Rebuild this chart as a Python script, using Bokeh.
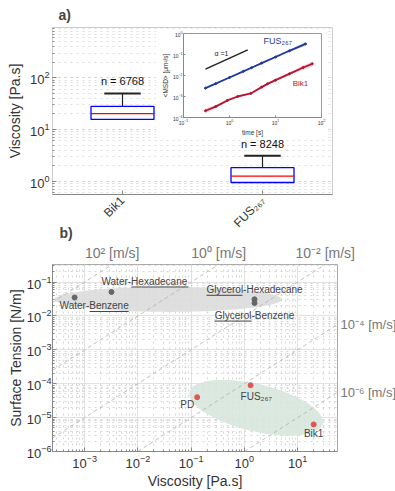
import math
import numpy as np
from bokeh.plotting import figure
from bokeh.models import (ColumnDataSource, FactorRange, LinearAxis, FixedTicker, Spacer)
from bokeh.transform import dodge
from bokeh.layouts import column, row
from bokeh.embed import file_html
from bokeh.resources import INLINE
from bokeh.core.properties import value

FONT = "Liberation Sans"
PAGE_W = 395

# ---------------- data: panel a (box plot) ----------------
box_cats = ["Bik1", "FUS₂₆₇"]
box_q1 = [15.7, 0.94]
box_median = [20.4, 1.25]
box_q3 = [28.0, 1.82]
box_whisker_hi = [50.0, 3.1]
box_n = ["n = 6768", "n = 8248"]

# ---------------- data: inset (MSD vs time) ----------------
fus_time = [0.3, 0.5, 1.0, 2.0, 3.0, 5.0, 10.0, 20.0, 45.0]
fus_msd = [0.0025, 0.0041, 0.008, 0.0158, 0.0235, 0.039, 0.076, 0.15, 0.32]
fus_lo = [0.0023, 0.0038, 0.0074, 0.0145, 0.0215, 0.035, 0.068, 0.13, 0.26]
fus_hi = [0.0027, 0.0044, 0.0086, 0.017, 0.0255, 0.043, 0.085, 0.17, 0.38]

bik_time = [0.3, 0.5, 0.9, 1.5, 2.9, 5.0, 6.7, 10.0, 20.0, 40.0, 63.0]
bik_msd = [2.1e-4, 3.3e-4, 6.5e-4, 1.0e-3, 1.4e-3, 2.8e-3, 4.0e-3, 6.0e-3, 1.2e-2, 2.4e-2, 3.6e-2]
bik_lo = [1.6e-4, 2.7e-4, 5.6e-4, 9.0e-4, 1.3e-3, 2.5e-3, 3.5e-3, 5.2e-3, 1.0e-2, 1.9e-2, 2.6e-2]
bik_hi = [2.7e-4, 4.0e-4, 7.4e-4, 1.1e-3, 1.5e-3, 3.1e-3, 4.5e-3, 6.9e-3, 1.4e-2, 3.0e-2, 4.8e-2]

alpha_time = [0.3, 2.5]
alpha_msd = [0.02, 0.165]

inset_xticks = [0.1, 1, 10, 100]
inset_yticks = [1e-4, 1e-3, 1e-2, 1e-1, 1]

# ---------------- data: panel b ----------------
liquid_names = ["Water-Benzene", "Water-Hexadecane", "Glycerol-Hexadecane", "Glycerol-Benzene"]
liquid_visc = [6.5e-4, 3.2e-3, 1.55, 1.55]
liquid_tension = [0.035, 0.051, 0.031, 0.024]

protein_names = ["PD", "FUS₂₆₇", "Bik1"]
protein_visc = [0.13, 1.31, 20.0]
protein_tension = [4.0e-5, 9.0e-5, 6.3e-6]

speeds = [1e2, 1e0, 1e-2, 1e-4, 1e-6]
speed_labels = ["10² [m/s]", "10⁰ [m/s]", "10⁻² [m/s]", "10⁻⁴ [m/s]", "10⁻⁶ [m/s]"]

# ellipses: centre (log10 visc, log10 tension), two semi-axis vectors in decades
liquid_ell_center = (-1.43, -1.51)
liquid_ell_u = (2.13, 0.0)
liquid_ell_v = (0.0, 0.37)
protein_ell_center = (0.22, -4.71)
protein_ell_u = (1.249, -0.47)
protein_ell_v = (0.104, 0.677)

XB = (2.5e-4, 56.0)
YB = (1e-6, 0.33)

TXT = "#333333"
AX = "#888888"


def style_axis(ax, size="13px"):
    ax.major_label_text_font = FONT
    ax.major_label_text_font_size = size
    ax.major_label_text_color = TXT
    ax.axis_label_text_font = FONT
    ax.axis_label_text_font_style = "normal"
    ax.axis_label_text_color = TXT
    ax.axis_line_color = AX
    ax.major_tick_line_color = AX
    ax.minor_tick_line_color = AX
    ax.major_tick_in = 4
    ax.major_tick_out = 0
    ax.minor_tick_in = 2
    ax.minor_tick_out = 0


# ================= panel a =================
PA_L, PA_T, PA_FW, PA_FH, PA_B = 52, 27, 280, 167, 44
PA_H = PA_T + PA_FH + PA_B
pa = figure(frame_width=PA_FW, frame_height=PA_FH, x_range=FactorRange(*box_cats),
            y_axis_type="log", y_range=(0.55, 950),
            output_backend="svg", toolbar_location=None,
            min_border_left=PA_L, min_border_right=PAGE_W - PA_L - PA_FW,
            min_border_top=PA_T, min_border_bottom=PA_B, title="a)")
pa.title.text_font = FONT
pa.title.text_font_size = "14px"
pa.title.text_font_style = "bold"
pa.title.align = "left"
pa.title.offset = 6
pa.title.standoff = 9
pa.outline_line_color = "#cccccc"
pa.xgrid.grid_line_color = None
pa.ygrid.grid_line_color = "#d0d0d0"
pa.ygrid.grid_line_dash = "dotted"
pa.ygrid.minor_grid_line_color = "#dddddd"
pa.ygrid.minor_grid_line_dash = "dotted"
for ax in pa.axis:
    style_axis(ax)
pa.yaxis.axis_label = "Viscosity [Pa.s]"
pa.yaxis.axis_label_text_font_size = "14px"
pa.yaxis.axis_label_standoff = 4
pa.yaxis.major_label_standoff = 3
pa.yaxis.axis_line_color = "#cccccc"
pa.xaxis.major_label_orientation = math.pi / 4
pa.xaxis.major_label_standoff = 4
pa.xaxis.major_label_text_font_size = "12px"

src = ColumnDataSource(dict(cat=box_cats, q1=box_q1, med=box_median, q3=box_q3,
                            hi=box_whisker_hi, n=box_n))
pa.segment(x0="cat", y0="q3", x1="cat", y1="hi", source=src, line_color="#222222", line_width=1.2)
pa.vbar(x="cat", top="q3", bottom="q1", width=0.45, source=src,
        fill_color="white", line_color="#0000ff", line_width=1.3)
pa.segment(x0=dodge("cat", -0.225, range=pa.x_range), y0="med",
           x1=dodge("cat", 0.225, range=pa.x_range), y1="med",
           source=src, line_color="#ff0000", line_width=1.3)
pa.segment(x0=dodge("cat", -0.13, range=pa.x_range), y0="hi",
           x1=dodge("cat", 0.13, range=pa.x_range), y1="hi",
           source=src, line_color="#222222", line_width=2)
pa.text(x="cat", y="hi", text="n", source=src, y_offset=-6,
        text_align="center", text_baseline="bottom",
        text_font=value(FONT), text_font_size="11px", text_color="#111111")

# ================= inset =================
PI_X, PI_Y = 155, 28
PI_L, PI_R, PI_T, PI_B, PI_FW, PI_FH = 28, 7, 5, 20, 138, 84
PI_W, PI_H = PI_L + PI_FW + PI_R, PI_T + PI_FH + PI_B
pi = figure(frame_width=PI_FW, frame_height=PI_FH, x_axis_type="log", y_axis_type="log",
            x_range=(0.1, 100), y_range=(1e-4, 1),
            output_backend="svg", toolbar_location=None,
            min_border_left=PI_L, min_border_right=PI_R, min_border_top=PI_T,
            min_border_bottom=PI_B)
pi.outline_line_color = "#999999"
pi.grid.grid_line_color = None
for ax in pi.axis:
    style_axis(ax, "5px")
    ax.major_tick_in = 2
    ax.minor_tick_in = 0
    ax.major_label_standoff = 1
    ax.axis_label_text_font_size = "6.5px"
    ax.axis_label_standoff = 1
pi.xaxis.ticker = FixedTicker(ticks=inset_xticks)
pi.yaxis.ticker = FixedTicker(ticks=inset_yticks)
pi.xaxis.axis_label = "time [s]"
pi.yaxis.axis_label = "<MSD> [μm²/s]"

pi.varea(x=fus_time, y1=fus_lo, y2=fus_hi, fill_color="#9fb0e0", fill_alpha=0.6)
pi.varea(x=bik_time, y1=bik_lo, y2=bik_hi, fill_color="#f2b6c4", fill_alpha=0.6)
pi.line(fus_time, fus_msd, line_color="#1f3a99", line_width=1.8)
pi.scatter(fus_time, fus_msd, size=2, color="#1f3a99")
pi.line(bik_time, bik_msd, line_color="#b5152f", line_width=1.8)
pi.scatter(bik_time, bik_msd, size=2, color="#b5152f")
pi.line(alpha_time, alpha_msd, line_color="#222222", line_width=1.5)
pi.text(x=[fus_time[-1]], y=[fus_msd[-1]], text=["FUS₂₆₇"], x_offset=-42, y_offset=-3,
        text_align="left", text_baseline="middle", text_font=value(FONT),
        text_font_size="9px", text_color="#1f3a99")
pi.text(x=[bik_time[-1]], y=[bik_msd[-1]], text=["Bik1"], x_offset=-4, y_offset=20,
        text_align="right", text_baseline="middle", text_font=value(FONT),
        text_font_size="8px", text_color="#b5152f")
pi.text(x=[alpha_time[0]], y=[alpha_msd[0]], text=["α =1"], x_offset=9, y_offset=-16,
        text_align="left", text_baseline="middle", text_font=value(FONT),
        text_font_size="7px", text_color="#222222")

inset_row = row(Spacer(width=PI_X, height=PI_H), pi,
                Spacer(width=PAGE_W - PI_X - PI_W, height=PI_H))
inset_row.margin = (PI_Y - PA_H, 0, PA_H - PI_Y - PI_H, 0)

# ================= panel b =================
PB_L, PB_FW, PB_FH = 48, 285, 187
PB_TOP, PB_FRAME_TOP = 220, 263
pb = figure(frame_width=PB_FW, frame_height=PB_FH, x_axis_type="log", y_axis_type="log",
            x_range=XB, y_range=YB, output_backend="svg", toolbar_location=None,
            min_border_left=PB_L, min_border_right=PAGE_W - PB_L - PB_FW,
            min_border_top=PB_FRAME_TOP - PB_TOP, min_border_bottom=38, title="b)")
pb.margin = (PB_TOP - PA_H, 0, 0, 0)
pb.border_fill_color = None
pb.title.text_font = FONT
pb.title.text_font_size = "14px"
pb.title.text_font_style = "bold"
pb.title.align = "left"
pb.title.offset = 7
pb.title.standoff = 2
pb.outline_line_color = "#aaaaaa"

# speed labels where the constant-speed lines leave the frame
top_x, top_lab, right_y, right_lab = [], {}, [], {}
for v, lab in zip(speeds, speed_labels):
    if YB[1] / v < XB[1]:
        xx = float(YB[1] / v)
        top_x.append(xx)
        top_lab[xx] = lab
    else:
        yy = float(v * XB[1])
        right_y.append(yy)
        right_lab[yy] = lab
top_speed = LinearAxis(ticker=FixedTicker(ticks=top_x, minor_ticks=[]),
                       major_label_overrides=top_lab)
pb.add_layout(top_speed, "above")
right_speed = LinearAxis(ticker=FixedTicker(ticks=right_y, minor_ticks=[]),
                         major_label_overrides=right_lab)
pb.add_layout(right_speed, "right")

for ax in pb.axis:
    style_axis(ax)
    ax.major_label_standoff = 3
for ax in (top_speed, right_speed):
    ax.major_tick_in = 0
    ax.major_tick_out = 0
    ax.axis_line_color = None
    ax.major_label_text_color = "#777777"
    ax.major_label_text_font_size = "14px"
    ax.major_label_standoff = 4
right_speed.major_label_text_font_size = "13px"
right_speed.major_label_standoff = 3

for g in pb.grid:
    g.grid_line_color = "#e2e2e2"
    g.minor_grid_line_color = "#d6d6d6"
    g.minor_grid_line_dash = "dotted"
bottom_ax = pb.below[0]
left_ax = pb.left[0]
bottom_ax.axis_label = "Viscosity [Pa.s]"
left_ax.axis_label = "Surface Tension [N/m]"
bottom_ax.axis_label_text_font_size = "14px"
left_ax.axis_label_text_font_size = "14px"
bottom_ax.axis_label_standoff = 2
left_ax.axis_label_standoff = 0
left_ax.major_label_standoff = 1

# ellipses
tt = np.linspace(0, 2 * np.pi, 160)


def ellipse(c, u, v):
    lx = c[0] + u[0] * np.cos(tt) + v[0] * np.sin(tt)
    ly = c[1] + u[1] * np.cos(tt) + v[1] * np.sin(tt)
    return 10 ** lx, 10 ** ly


ex, ey = ellipse(liquid_ell_center, liquid_ell_u, liquid_ell_v)
pb.patch(ex, ey, fill_color="#dcdcdc", line_color=None, fill_alpha=0.9)
ex, ey = ellipse(protein_ell_center, protein_ell_u, protein_ell_v)
pb.patch(ex, ey, fill_color="#d7e7dd", line_color=None, fill_alpha=0.9)

# constant-speed lines: tension = speed * viscosity
for v in speeds:
    x0 = max(XB[0], YB[0] / v)
    x1 = min(XB[1], YB[1] / v)
    pb.line([x0, x1], [v * x0, v * x1], line_color="#b0b0b0", line_width=0.8,
            line_dash="4 3")

# points
pb.scatter(liquid_visc, liquid_tension, size=5, color="#666666")
pb.scatter(protein_visc, protein_tension, size=5, color="#e05555")

# labels
lsrc = ColumnDataSource(dict(x=liquid_visc, y=liquid_tension, t=liquid_names,
                             dx=[-15, -10, 0, 0], dy=[8, -10, -10, 12],
                             al=["left", "left", "center", "center"]))
pb.text(x="x", y="y", text="t", x_offset="dx", y_offset="dy", text_align="al",
        text_baseline="middle", source=lsrc, text_font=value(FONT),
        text_font_size="10px", text_color="#444444")
psrc = ColumnDataSource(dict(x=protein_visc, y=protein_tension, t=protein_names,
                             dx=[-3, -10, 0], dy=[7, 11, 9],
                             al=["right", "left", "center"]))
pb.text(x="x", y="y", text="t", x_offset="dx", y_offset="dy", text_align="al",
        text_baseline="middle", source=psrc, text_font=value(FONT),
        text_font_size="10px", text_color="#444444")

# underlines (pixel offsets from each point, converted to decades of the axes)
PXX = PB_FW / math.log10(XB[1] / XB[0])
PXY = PB_FH / math.log10(YB[1] / YB[0])
ul = [(0, 15, 54, 14), (1, 20, 77, -5), (2, -48, -12, -4), (3, -40, -3, 18)]
ux0, ux1, uy = [], [], []
for i, a, b, d in ul:
    ux0.append(liquid_visc[i] * 10 ** (a / PXX))
    ux1.append(liquid_visc[i] * 10 ** (b / PXX))
    uy.append(liquid_tension[i] * 10 ** (-d / PXY))
pb.segment(x0=ux0, y0=uy, x1=ux1, y1=uy, line_color="#444444", line_width=1)

layout = column(pa, inset_row, pb)
open("out.html", "w").write(file_html(layout, INLINE))
